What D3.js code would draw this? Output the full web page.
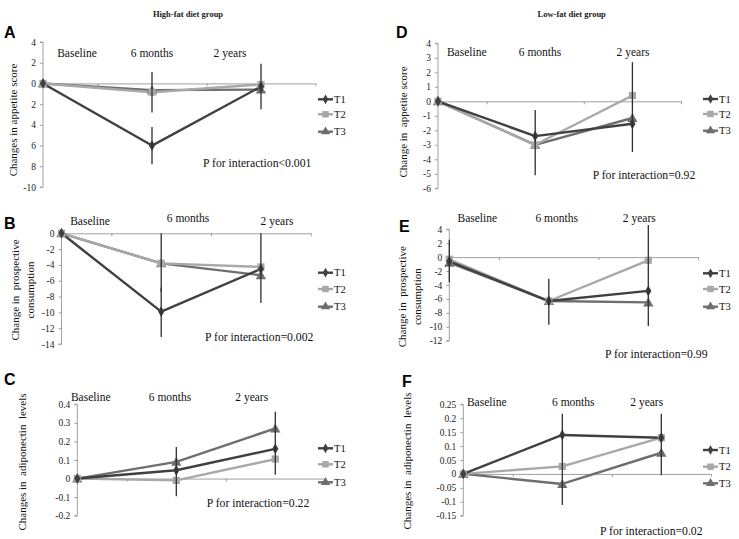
<!DOCTYPE html>
<html><head><meta charset="utf-8">
<script src="https://cdn.jsdelivr.net/npm/d3@7"></script>
<style>body{margin:0;background:#fff}svg{display:block}
svg text{font-family:"Liberation Serif",serif}
</style>
</head><body>
<svg id="chart" width="739" height="539"></svg>
<script>
// ---------- DATA ----------
const categories = ["Baseline", "6 months", "2 years"];
const seriesNames = ["T1", "T2", "T3"];

// Panel A: High-fat, appetite score
const A_T1 = [0, -6.0, -0.3];
const A_T2 = [0, -0.85, -0.1];
const A_T3 = [0, -0.65, -0.6];
const A_err = [[1, -2.8, 1.1], [1, -7.8, -4.2], [2, -2.5, 1.9]];
const A_ticks = [4, 2, 0, -2, -4, -6, -8, -10];
const A_tickLabels = ["4", "2", "0", "2", "4", "6", "8", "-10"];

// Panel B: High-fat, prospective consumption
const B_T1 = [0, -9.9, -4.5];
const B_T2 = [0, -3.8, -4.25];
const B_T3 = [0, -3.8, -5.3];
const B_err = [[1, -7.4, 0], [1, -13.1, -6.9], [2, -8.8, 0]];
const B_ticks = [0, -2, -4, -6, -8, -10, -12, -14];
const B_tickLabels = ["0", "-2", "-4", "-6", "-8", "-10", "-12", "-14"];

// Panel C: High-fat, adiponectin
const C_T1 = [0, 0.045, 0.16];
const C_T2 = [0, -0.01, 0.105];
const C_T3 = [0, 0.09, 0.27];
const C_err = [[1, -0.095, 0.17], [2, 0.02, 0.36]];
const C_ticks = [0.4, 0.3, 0.2, 0.1, 0, -0.1, -0.2];
const C_tickLabels = ["0.4", "0.3", "0.2", "0.1", "0", "-0.1", "-0.2"];

// Panel D: Low-fat, appetite score
const D_T1 = [0, -2.4, -1.55];
const D_T2 = [0, -3.0, 0.4];
const D_T3 = [0, -3.0, -1.15];
const D_err = [[1, -5.1, -0.6], [2, -3.5, 2.7]];
const D_ticks = [4, 3, 2, 1, 0, -1, -2, -3, -4, -5, -6];
const D_tickLabels = ["4", "3", "2", "1", "0", "-1", "-2", "-3", "-4", "-5", "-6"];

// Panel E: Low-fat, prospective consumption
const E_T1 = [-0.6, -6.3, -4.85];
const E_T2 = [-0.3, -6.3, -0.45];
const E_T3 = [-0.8, -6.3, -6.5];
const E_err = [[0, -3.6, 2.5], [1, -9.7, -3.1], [2, -9.9, 4.6]];
const E_ticks = [4, 2, 0, -2, -4, -6, -8, -10, -12];
const E_tickLabels = ["4", "2", "0", "-2", "-4", "-6", "-8", "-10", "-12"];

// Panel F: Low-fat, adiponectin
const F_T1 = [0, 0.14, 0.13];
const F_T2 = [0, 0.027, 0.13];
const F_T3 = [0, -0.036, 0.076];
const F_err = [[1, -0.112, 0.216], [2, -0.005, 0.216]];
const F_ticks = [0.25, 0.2, 0.15, 0.1, 0.05, 0, -0.05, -0.1, -0.15];
const F_tickLabels = ["0.25", "0.2", "0.15", "0.1", "0.05", "0", "-0.05", "-0.1", "-0.15"];

const groupTitles = ["High-fat diet group", "Low-fat diet group"];
const pTexts = ["P for interaction<0.001", "P for interaction=0.002", "P for interaction=0.22",
                "P for interaction=0.92", "P for interaction=0.99", "P for interaction=0.02"];

// ---------- LAYOUT / STYLE ----------
const colors = ["#404040", "#a8a8a8", "#6e6e6e"];
const shapes = [d3.symbolDiamond, d3.symbolSquare, d3.symbolTriangle];
const markerSize = [34, 52, 46];
const SERIF = '"Liberation Serif", "Times New Roman", serif';
const SANS = '"Liberation Sans", Arial, sans-serif';

const panels = [
  {letter: "A", s: [A_T1, A_T2, A_T3], err: A_err, ticks: A_ticks, tl: A_tickLabels, p: pTexts[0],
   title: ["Changes in appetite score"],
   x0: 43, step: 109, yd: [-10, 4], yr: [187, 42],
   catX: [77, 152, 230], catY: [53, 53, 53], legX: 318, legY: [99.3, 114.3, 131.7],
   pX: 203, pY: 163, titX: [13], titY: 120, letX: 4, letY: 32},
  {letter: "B", s: [B_T1, B_T2, B_T3], err: B_err, ticks: B_ticks, tl: B_tickLabels, p: pTexts[1],
   title: ["Change in  prospective", "consumption"],
   x0: 61.5, step: 99.7, yd: [-14, 0], yr: [344, 233.3],
   catX: [90, 188, 277], catY: [220.7, 218, 220.7], legX: 318, legY: [272.7, 289, 306.7],
   pX: 205, pY: 336.7, titX: [15, 30], titY: 290, letX: 4, letY: 223},
  {letter: "C", s: [C_T1, C_T2, C_T3], err: C_err, ticks: C_ticks, tl: C_tickLabels, p: pTexts[2],
   title: ["Changes in  adiponectin  levels"],
   x0: 77.3, step: 99, yd: [-0.2, 0.4], yr: [515.7, 404.3],
   catX: [90.7, 170, 251.7], catY: [396.7, 396.7, 396.7], legX: 318, legY: [448.3, 464.3, 482.3],
   pX: 206.7, pY: 503.3, titX: [21.7], titY: 462, letX: 4, letY: 379},
  {letter: "D", s: [D_T1, D_T2, D_T3], err: D_err, ticks: D_ticks, tl: D_tickLabels, p: pTexts[3],
   title: ["Change in  appetite score"],
   x0: 438, step: 97.2, yd: [-6, 4], yr: [188.3, 43.3],
   catX: [466.7, 540, 633], catY: [51.7, 51.7, 51.7], legX: 703, legY: [99, 114, 130.7],
   pX: 592.7, pY: 175, titX: [402.7], titY: 122, letX: 396, letY: 32},
  {letter: "E", s: [E_T1, E_T2, E_T3], err: E_err, ticks: E_ticks, tl: E_tickLabels, p: pTexts[4],
   title: ["Change in  prospective", "consumption"],
   x0: 449.3, step: 99.5, yd: [-12, 4], yr: [340.7, 229.3],
   catX: [477.3, 556.7, 639.3], catY: [218.3, 218.3, 218.3], legX: 703, legY: [273.3, 289, 306.7],
   pX: 605, pY: 354, titX: [401.7, 416.7], titY: 296.7, letX: 399, letY: 225.7},
  {letter: "F", s: [F_T1, F_T2, F_T3], err: F_err, ticks: F_ticks, tl: F_tickLabels, p: pTexts[5],
   title: ["Changes in  adiponectin  levels"],
   x0: 463.3, step: 99, yd: [-0.15, 0.25], yr: [515.7, 404.3],
   catX: [486.7, 573.3, 646.7], catY: [401.7, 401.7, 401.7], legX: 703, legY: [450, 466.7, 483.3],
   pX: 600, pY: 531, titX: [406.7], titY: 461, letX: 402, letY: 381}
];

const svg = d3.select("#chart");

// group titles
svg.selectAll("text.gtitle").data(groupTitles).join("text")
  .style("font-family", SERIF)
  .attr("x", (d, i) => i === 0 ? 188 : 571.7).attr("y", 17)
  .attr("text-anchor", "middle")
  .attr("font-weight", "bold").attr("font-size", 8.5).attr("fill", "#222").text(d => d);

panels.forEach(P => {
  const g = svg.append("g");
  const x = d3.scaleLinear().domain([0, 2.5]).range([P.x0, P.x0 + 2.5 * P.step]);
  const y = d3.scaleLinear().domain(P.yd).range(P.yr);

  // y axis
  const yAxis = d3.axisLeft(y).tickValues(P.ticks)
    .tickFormat((d, i) => P.tl[i]).tickSize(3).tickPadding(4);
  const ya = g.append("g").attr("transform", `translate(${P.x0},0)`).call(yAxis);
  ya.attr("font-family", null).attr("font-size", null);
  ya.select(".domain").attr("stroke", "#a0a0a0").attr("d", `M-3,${y(P.yd[1])}H0V${y(P.yd[0])}H-3`);
  ya.selectAll(".tick line").attr("stroke", "#a0a0a0");
  ya.selectAll(".tick text").style("font-family", SERIF).style("font-size", "9.5px").attr("fill", "#222");

  // x axis (zero line)
  const xAxis = d3.axisBottom(x).tickValues([0.5, 1.5, 2.5]).tickFormat("").tickSize(3).tickSizeOuter(0);
  const xa = g.append("g").attr("transform", `translate(0,${y(0)})`).call(xAxis);
  xa.select(".domain").attr("stroke", "#a0a0a0");
  xa.selectAll(".tick line").attr("stroke", "#a0a0a0");

  // category labels
  g.selectAll("text.cat").data(categories).join("text")
    .style("font-family", SERIF).style("font-size", "11.5px")
    .attr("x", (d, i) => P.catX[i]).attr("y", (d, i) => P.catY[i] + 4)
    .attr("text-anchor", "middle")
    .attr("fill", "#111").text(d => d);

  // series lines
  const line = d3.line().x((d, i) => x(i)).y(d => y(d));
  [2, 1, 0].forEach(k => {
    g.append("path").datum(P.s[k]).attr("d", line).attr("fill", "none")
      .attr("stroke", colors[k]).attr("stroke-width", 2.4).attr("stroke-linejoin", "round");
  });
  // markers
  [2, 1, 0].forEach(k => {
    g.selectAll(null).data(P.s[k]).join("path")
      .attr("d", d3.symbol().type(shapes[k]).size(markerSize[k]))
      .attr("transform", (d, i) => `translate(${x(i)},${y(d) + (k === 2 ? 1 : 0)})`)
      .attr("fill", colors[k]);
  });
  // error bars
  g.selectAll("line.err").data(P.err).join("line")
    .attr("x1", d => x(d[0])).attr("x2", d => x(d[0]))
    .attr("y1", d => y(d[1])).attr("y2", d => y(d[2]))
    .attr("stroke", "#2e2e2e").attr("stroke-width", 1.3);

  // legend
  seriesNames.forEach((nm, k) => {
    const ly = P.legY[k];
    g.append("line").attr("x1", P.legX).attr("x2", P.legX + 15).attr("y1", ly).attr("y2", ly)
      .attr("stroke", colors[k]).attr("stroke-width", 2.4);
    g.append("path").attr("d", d3.symbol().type(shapes[k]).size(markerSize[k] * 0.8))
      .attr("transform", `translate(${P.legX + 7.5},${ly})`).attr("fill", colors[k]);
    g.append("text").style("font-family", SERIF).style("font-size", "10.5px")
      .attr("x", P.legX + 16).attr("y", ly + 3.5)
      .attr("fill", "#111").text(nm);
  });

  // p text
  g.append("text").style("font-family", SERIF).style("font-size", "11.7px")
    .attr("x", P.pX).attr("y", P.pY + 4)
    .attr("fill", "#111").text(P.p);

  // y title
  P.title.forEach((t, j) => {
    g.append("text").style("font-family", SERIF).style("font-size", "11px")
      .attr("transform", `translate(${P.titX[j] + 4},${P.titY}) rotate(-90)`)
      .attr("text-anchor", "middle")
      .attr("fill", "#111").style("white-space", "pre").text(t);
  });

  // panel letter
  g.append("text").style("font-family", SANS).style("font-size", "16px")
    .attr("x", P.letX).attr("y", P.letY + 6)
    .attr("font-weight", "bold")
    .attr("fill", "#000").text(P.letter);
});
</script>
</body></html>
